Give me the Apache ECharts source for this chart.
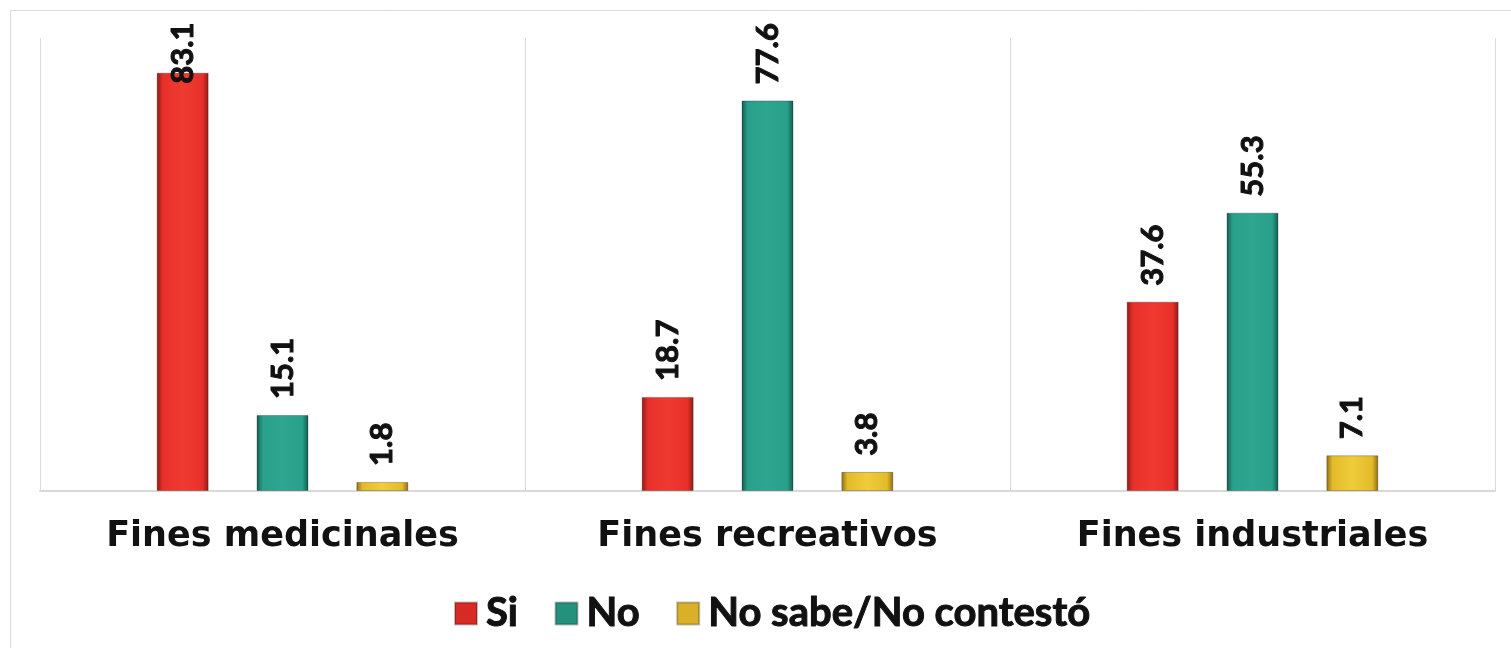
<!DOCTYPE html>
<html>
<head>
<meta charset="utf-8">
<script src="https://cdn.jsdelivr.net/npm/echarts@6/dist/echarts.min.js"></script>
<style>
html,body{margin:0;padding:0;background:#fff;}
#main{width:1511px;height:648px;}
</style>
</head>
<body>
<div id="main"></div>
<script>
var categories = ['Fines medicinales', 'Fines recreativos', 'Fines industriales'];
var seriesNames = ['Si', 'No', 'No sabe/No contestó'];
var siData = [83.1, 18.7, 37.6];
var noData = [15.1, 77.6, 55.3];
var nsData = [1.8, 3.8, 7.1];

// bevel-ish look: darker edges, bright middle
function bevel(dark, mid, light) {
    return new echarts.graphic.LinearGradient(0, 0, 1, 0, [
        {offset: 0, color: dark},
        {offset: 0.12, color: mid},
        {offset: 0.5, color: light},
        {offset: 0.88, color: mid},
        {offset: 1, color: dark}
    ]);
}
var colors = [
    bevel('#8e1a15', '#e8302a', '#ee3a30'),
    bevel('#155a4d', '#28a08a', '#2ea68f'),
    bevel('#8a6e12', '#e3bb2a', '#f0cc3a')
];
var legendColors = ['#d82a24', '#25907c', '#d9b027'];

var dom = document.getElementById('main');
var myChart = echarts.init(dom);

var LABEL_DIST = 16;
var LABEL_TOP = 22;   // labels that would leave the picture are pushed down

function makeSeries(i, data) {
    return {
        name: seriesNames[i],
        type: 'bar',
        data: data,
        barWidth: 52,
        barGap: '92%',
        itemStyle: {color: colors[i], borderColor: 'rgba(0,0,0,0.25)', borderWidth: 1},
        label: {
            show: true,
            position: 'top',
            rotate: 90,
            align: 'left',
            verticalAlign: 'middle',
            distance: LABEL_DIST,
            fontSize: 31,
            fontWeight: 'bold',
            fontFamily: 'Lato',
            color: '#111',
            textBorderColor: '#111',
            textBorderWidth: 1,
            formatter: function (p) { return p.value.toFixed(1); }
        },
        labelLayout: function (params) {
            if (params.labelRect.y < LABEL_TOP) {
                return {y: params.rect.y - LABEL_DIST + (LABEL_TOP - params.labelRect.y)};
            }
            return {};
        }
    };
}

var option = {
    animation: false,
    graphic: [{
        type: 'rect',
        shape: {x: 10.5, y: 10.5, width: 1510, height: 660},
        style: {fill: 'none', stroke: '#d9d9d9', lineWidth: 1}
    }],
    legend: {
        data: seriesNames.map(function (n, i) {
            return {name: n, itemStyle: {color: legendColors[i]}};
        }),
        top: 588,
        left: 449,
        padding: 5,
        itemWidth: 22,
        itemHeight: 22,
        icon: 'rect',
        itemGap: 36,
        textStyle: {
            fontSize: 40, fontWeight: 'bold', fontFamily: 'Lato', color: '#111',
            textBorderColor: '#111', textBorderWidth: 1, padding: [0, 0, 0, 4]
        }
    },
    grid: {left: 40, right: 16, top: 38, bottom: 157},
    xAxis: {
        type: 'category',
        data: categories,
        axisLine: {lineStyle: {color: '#d9d9d9', width: 2}},
        axisTick: {show: false},
        splitLine: {show: true, lineStyle: {color: '#d9d9d9', width: 1}},
        axisLabel: {
            fontSize: 35,
            fontWeight: 'bold',
            fontFamily: 'DejaVu Sans',
            color: '#111',
            margin: 28
        }
    },
    yAxis: {
        type: 'value',
        min: 0,
        max: 90,
        show: false
    },
    series: [makeSeries(0, siData), makeSeries(1, noData), makeSeries(2, nsData)]
};
myChart.setOption(option);
</script>
</body>
</html>
